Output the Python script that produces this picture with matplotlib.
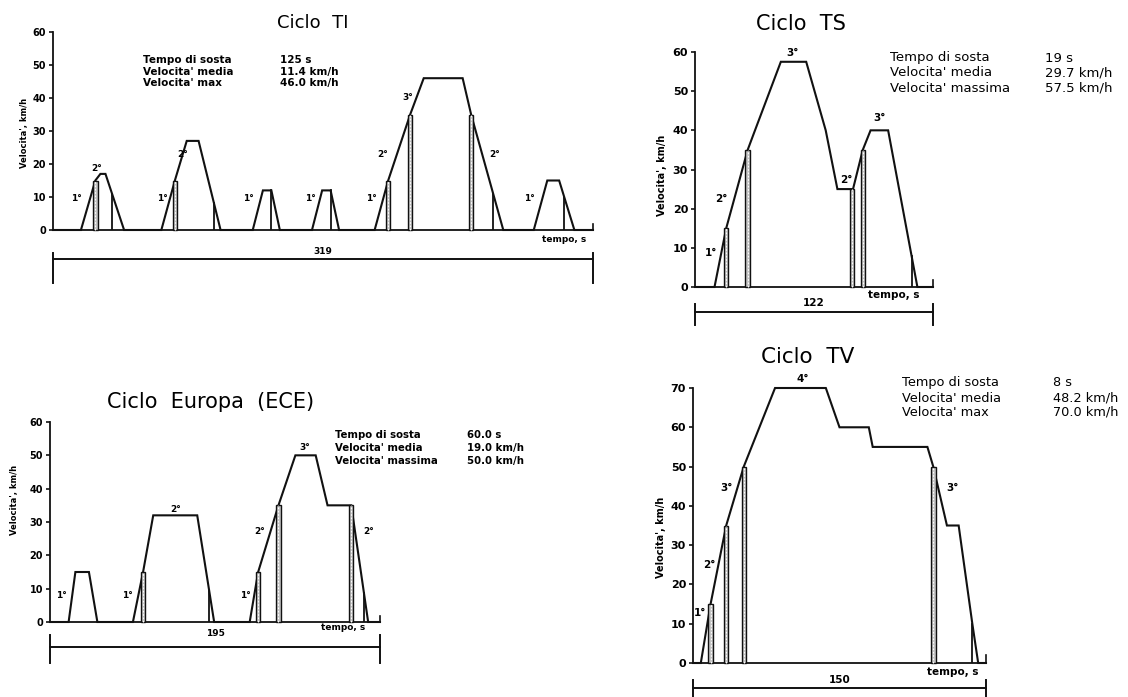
import numpy as np
import matplotlib.pyplot as plt
from matplotlib.patches import Rectangle
from matplotlib.transforms import blended_transform_factory

W, H = 1128, 697

# Ciclo TI  (tempo s, velocita' km/h)
ti_t = [0, 16.5, 25, 28, 31, 42, 64, 72, 79, 86, 99, 118, 124, 129, 134, 153, 159, 164, 169,
        190, 198, 211, 219, 242, 247, 266, 284, 292, 299, 308, 319]
ti_v = [0, 0, 15, 17, 17, 0, 0, 15, 27, 27, 0, 0, 12, 12, 0, 0, 12, 12, 0,
        0, 15, 35, 46, 46, 35, 0, 0, 15, 15, 0, 0]
ti_shift = [25, 72, 198, 211, 247]
ti_clutch = [35, 95, 129, 164, 260, 302]
ti_gear_t = [13.6, 26, 64.5, 76.3, 115.4, 152, 188, 195, 209.5, 261, 281.7]
ti_gear_v = [9.4, 18.5, 9.4, 23, 9.4, 9.4, 9.4, 23, 40.3, 23, 9.4]
ti_gear = ["1°", "2°", "1°", "2°", "1°", "1°", "1°", "2°", "3°", "2°", "1°"]
ti_info = ["Tempo di sosta", "Velocita' media", "Velocita' max"]
ti_vals = ["125 s", "11.4 km/h", "46.0 km/h"]
ti_dur = 319

# Ciclo TS
ts_t = [0, 10, 16, 27, 30, 44, 57, 67, 73, 81, 86, 90, 99, 114, 122]
ts_v = [0, 0, 15, 35, 39, 57.5, 57.5, 40, 25, 25, 35, 40, 40, 0, 0]
ts_shift = [16, 27, 80.5, 86]
ts_clutch = [111]
ts_gear_t = [8.2, 13.3, 50.2, 77.4, 94.8]
ts_gear_v = [8.7, 22.5, 59.7, 27.3, 43.1]
ts_gear = ["1°", "2°", "3°", "2°", "3°"]
ts_info = ["Tempo di sosta", "Velocita' media", "Velocita' massima"]
ts_vals = ["19 s", "29.7 km/h", "57.5 km/h"]
ts_dur = 122

# Ciclo Europa (ECE)
ece_t = [0, 11, 15, 23, 28, 49, 55, 61, 87, 97, 118, 123, 135, 145, 157, 164, 178, 188, 195]
ece_v = [0, 0, 15, 15, 0, 0, 15, 32, 32, 0, 0, 15, 35, 50, 50, 35, 35, 0, 0]
ece_shift = [55, 123, 135, 178]
ece_clutch = [94, 185.5]
ece_gear_t = [6.5, 45.5, 74.5, 115.2, 124.1, 150.7, 188]
ece_gear_v = [8.1, 8.1, 33.6, 8.1, 27, 52.2, 27]
ece_gear = ["1°", "1°", "2°", "1°", "2°", "3°", "2°"]
ece_info = ["Tempo di sosta", "Velocita' media", "Velocita' massima"]
ece_vals = ["60.0 s", "19.0 km/h", "50.0 km/h"]
ece_dur = 195

# Ciclo TV
tv_t = [0, 4, 9, 17, 20, 26, 34, 42, 68, 75, 90, 92, 120, 123, 130, 136, 143, 146, 150]
tv_v = [0, 0, 15, 35, 40, 50, 60, 70, 70, 60, 60, 55, 55, 50, 35, 35, 10, 0, 0]
tv_shift = [9, 17, 26, 123]
tv_clutch = [143]
tv_gear_t = [3.6, 8.2, 17.4, 56.3, 132.6]
tv_gear_v = [12.7, 24.9, 44.5, 72.3, 44.5]
tv_gear = ["1°", "2°", "3°", "4°", "3°"]
tv_info = ["Tempo di sosta", "Velocita' media", "Velocita' max"]
tv_vals = ["8 s", "48.2 km/h", "70.0 km/h"]
tv_dur = 150

fig = plt.figure(figsize=(W / 100, H / 100), dpi=100)
fig.patch.set_facecolor('white')


def fx(px):
    return px / W


def fy(py):
    return 1 - py / H


def panel(box, t, v, shift, clutch, gt, gv, gl, dur, ymax, fs, tfs):
    # box: pixel left, right, y of zero, y of ymax
    x0, x1, y0, ytop = box
    ax = fig.add_axes([fx(x0), fy(y0), (x1 - x0) / W, (y0 - ytop) / H])
    pps = (x1 - x0) / dur
    ax.plot(t, v, color='#111111', lw=1.5, clip_on=False, solid_joinstyle='miter', zorder=3)
    bw = 4.5 / pps
    for s in shift:
        h = np.interp(s, t, v)
        ax.add_patch(Rectangle((s - bw / 2, 0), bw, h, facecolor='#c4c4c4',
                               edgecolor='#111111', lw=1.0, zorder=4, clip_on=False))
        ax.plot([s, s], [0, h], color='white', lw=0.8, ls=(0, (1.5, 1.5)), zorder=5, clip_on=False)
    for c in clutch:
        ax.plot([c, c], [0, np.interp(c, t, v)], color='#111111', lw=1.3, zorder=3)
    for a, b, s in zip(gt, gv, gl):
        ax.text(a, b, s, ha='center', va='center', fontsize=fs, fontweight='bold')
    # end tick of time axis
    ax.plot([dur, dur], [0, ymax * 0.03], color='#111111', lw=1.2, clip_on=False)
    ax.set_xlim(0, dur)
    ax.set_ylim(0, ymax)
    ax.set_xticks([])
    ax.set_yticks(range(0, ymax + 1, 10))
    ax.tick_params(axis='y', direction='out', length=3, width=1.1, labelsize=tfs, pad=2)
    for lb in ax.get_yticklabels():
        lb.set_fontweight('bold')
    for side in ['top', 'right']:
        ax.spines[side].set_visible(False)
    for side in ['left', 'bottom']:
        ax.spines[side].set_linewidth(1.3)
        ax.spines[side].set_color('#111111')
    ax.patch.set_alpha(0)
    return ax


def scale_bar(ax, dur, bar_y, tick_top, tick_bot, lbl_y, tempo_x, tempo_y, fs):
    tr = blended_transform_factory(ax.transData, fig.transFigure)
    ax.plot([0, dur], [fy(bar_y)] * 2, color='#111111', lw=1.4, transform=tr, clip_on=False)
    for e in [0, dur]:
        ax.plot([e, e], [fy(tick_top), fy(tick_bot)], color='#111111', lw=1.4,
                transform=tr, clip_on=False)
    ax.text(dur / 2, fy(lbl_y), str(dur), transform=tr, ha='center', va='center',
            fontsize=fs, fontweight='bold')
    ax.text(tempo_x, fy(tempo_y), 'tempo, s', transform=tr, ha='center', va='center',
            fontsize=fs, fontweight='bold')


def info(x_lbl, x_val, ys, labels, values, fs, weight):
    for y, a, b in zip(ys, labels, values):
        fig.text(fx(x_lbl), fy(y), a, ha='left', va='center', fontsize=fs, fontweight=weight)
        fig.text(fx(x_val), fy(y), b, ha='left', va='center', fontsize=fs, fontweight=weight)


# Ciclo TI
ax1 = panel((53, 593, 230, 32), ti_t, ti_v, ti_shift, ti_clutch,
            ti_gear_t, ti_gear_v, ti_gear, ti_dur, 60, 6.5, 7)
scale_bar(ax1, ti_dur, 259, 253, 283, 251, 302, 239, 6.5)
fig.text(fx(313), fy(23), 'Ciclo  TI', ha='center', va='center', fontsize=13)
fig.text(fx(24), fy(133), "Velocita', km/h", rotation=90, ha='center', va='center',
         fontsize=6, fontweight='bold')
info(143, 280, [60, 72, 83], ti_info, ti_vals, 7.5, 'bold')

# Ciclo TS
ax2 = panel((695, 933, 287, 52), ts_t, ts_v, ts_shift, ts_clutch,
            ts_gear_t, ts_gear_v, ts_gear, ts_dur, 60, 7.5, 8)
scale_bar(ax2, ts_dur, 312, 304, 325, 303, 102, 295, 7.5)
fig.text(fx(801), fy(24), 'Ciclo  TS', ha='center', va='center', fontsize=15)
fig.text(fx(662), fy(175), "Velocita', km/h", rotation=90, ha='center', va='center',
         fontsize=7, fontweight='bold')
info(890, 1045, [58, 73, 88], ts_info, ts_vals, 9.5, 'normal')

# Ciclo Europa (ECE)
ax3 = panel((50, 380, 622, 422), ece_t, ece_v, ece_shift, ece_clutch,
            ece_gear_t, ece_gear_v, ece_gear, ece_dur, 60, 6.5, 7)
scale_bar(ax3, ece_dur, 647, 635, 663, 633, 173, 627, 6.5)
fig.text(fx(211), fy(402), 'Ciclo  Europa  (ECE)', ha='center', va='center', fontsize=15)
fig.text(fx(15), fy(500), "Velocita', km/h", rotation=90, ha='center', va='center',
         fontsize=6, fontweight='bold')
info(335, 467, [435, 448, 461], ece_info, ece_vals, 7.3, 'bold')

# Ciclo TV
ax4 = panel((693, 986, 663, 388), tv_t, tv_v, tv_shift, tv_clutch,
            tv_gear_t, tv_gear_v, tv_gear, tv_dur, 70, 7.5, 8)
scale_bar(ax4, tv_dur, 688, 680, 697, 680, 133, 672, 7.5)
fig.text(fx(808), fy(357), 'Ciclo  TV', ha='center', va='center', fontsize=15.5)
fig.text(fx(661), fy(537), "Velocita', km/h", rotation=90, ha='center', va='center',
         fontsize=7, fontweight='bold')
info(902, 1053, [383, 398, 412], tv_info, tv_vals, 9.3, 'normal')

fig.savefig('out.png', dpi=100)
